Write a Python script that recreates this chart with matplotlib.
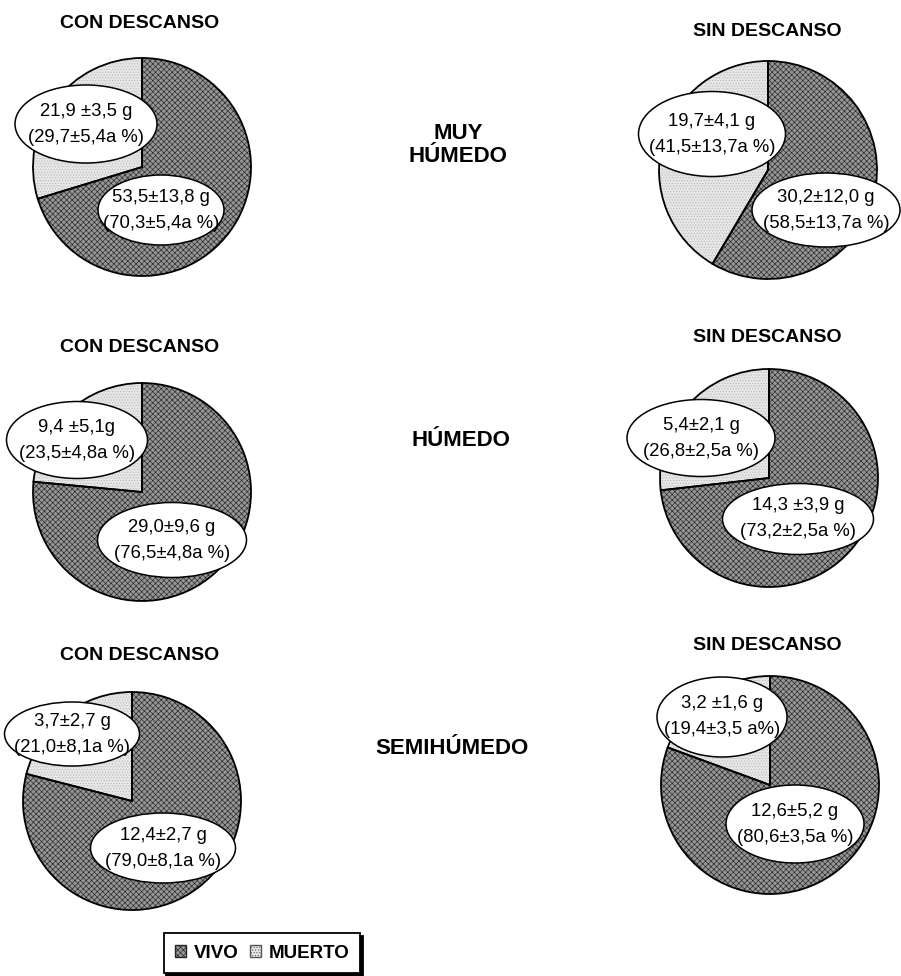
import matplotlib
matplotlib.use("Agg")
import matplotlib.pyplot as plt
from matplotlib.patches import Ellipse, Patch

plt.rcParams['font.family'] = ['Liberation Sans', 'DejaVu Sans']
plt.rcParams['hatch.linewidth'] = 0.45

# ====================== DATA ======================
# order: row by row (muy humedo, humedo, semihumedo), left = con descanso, right = sin descanso
vivo_pct = [70.3, 58.5, 76.5, 73.2, 79.0, 80.6]
muerto_pct = [29.7, 41.5, 23.5, 26.8, 21.0, 19.4]
vivo_lbl = [("53,5±13,8 g", "(70,3±5,4a %)"),
            ("30,2±12,0 g", "(58,5±13,7a %)"),
            ("29,0±9,6 g", "(76,5±4,8a %)"),
            ("14,3 ±3,9 g", "(73,2±2,5a %)"),
            ("12,4±2,7 g", "(79,0±8,1a %)"),
            ("12,6±5,2 g", "(80,6±3,5a %)")]
muerto_lbl = [("21,9 ±3,5 g", "(29,7±5,4a %)"),
              ("19,7±4,1 g", "(41,5±13,7a %)"),
              ("9,4 ±5,1g", "(23,5±4,8a %)"),
              ("5,4±2,1 g", "(26,8±2,5a %)"),
              ("3,7±2,7 g", "(21,0±8,1a %)"),
              ("3,2 ±1,6 g", "(19,4±3,5 a%)")]
pie_titles = ["CON DESCANSO", "SIN DESCANSO"] * 3
row_labels = ["MUY\nHÚMEDO", "HÚMEDO", "SEMIHÚMEDO"]
legend_labels = ["VIVO", "MUERTO"]

# ====================== LAYOUT (pixels from top-left) ======================
W, H = 901, 976
R = 109
pie_xy = [(142, 167), (768, 170), (142, 492), (769, 478), (132, 801), (770, 785)]
title_xy = [(140, 23), (767, 32), (140, 348), (767, 337), (140, 655), (767, 645)]
row_xy = [(458, 145), (461, 440), (452, 748)]
# ellipse (cx, cy, w, h)
muerto_ell = [(86, 124, 142, 78), (712, 134, 147, 85), (77, 440, 141, 77),
              (701, 438, 148, 77), (72, 734, 135, 64), (722, 717, 130, 80)]
vivo_ell = [(161, 210, 126, 70), (826, 210, 148, 74), (172, 540, 149, 75),
            (798, 519, 151, 71), (163, 848, 145, 70), (795, 824, 138, 78)]

VIVO_FC, VIVO_HC, VIVO_H = '#969696', '#262626', 'xxxxxx'
MUERTO_FC, MUERTO_HC, MUERTO_H = '#e6e6e6', '#b8b8b8', '......'


def P(x, y):
    return x, H - y


fig = plt.figure(figsize=(W / 100, H / 100), dpi=100)
ax = fig.add_axes([0, 0, 1, 1])

for i in range(6):
    c = P(*pie_xy[i])
    vals = [vivo_pct[i], muerto_pct[i]]
    wedges, _ = ax.pie(vals, colors=[VIVO_FC, MUERTO_FC], hatch=[VIVO_H, MUERTO_H],
                       startangle=90, counterclock=False, center=c, radius=R,
                       wedgeprops=dict(linewidth=0))
    wedges[0].set_edgecolor(VIVO_HC)
    wedges[1].set_edgecolor(MUERTO_HC)
    for w in wedges:
        w.set_linewidth(0)
    # outline
    ax.pie(vals, startangle=90, counterclock=False, center=c, radius=R,
           wedgeprops=dict(fill=False, edgecolor='black', linewidth=1.3))

    tx, ty = P(*title_xy[i])
    ax.text(tx, ty, pie_titles[i], ha='center', va='center', fontsize=14,
            fontweight='bold')

    for (ex, ey, ew, eh), (l1, l2) in ((muerto_ell[i], muerto_lbl[i]),
                                        (vivo_ell[i], vivo_lbl[i])):
        x, y = P(ex, ey)
        ax.add_patch(Ellipse((x, y), ew, eh, facecolor='white', edgecolor='black',
                             linewidth=1.1, zorder=3))
        ax.text(x, y + 13, l1, ha='center', va='center', fontsize=13.3, zorder=4)
        ax.text(x, y - 13, l2, ha='center', va='center', fontsize=13.3, zorder=4)

for lbl, (x, y) in zip(row_labels, row_xy):
    x, y = P(x, y)
    ax.text(x, y, lbl, ha='center', va='center', fontsize=16, fontweight='bold',
            linespacing=1.1)

ax.set_xlim(0, W)
ax.set_ylim(0, H)
ax.set_aspect('auto')
ax.axis('off')

handles = [Patch(facecolor=VIVO_FC, edgecolor=VIVO_HC, hatch=VIVO_H, label=legend_labels[0]),
           Patch(facecolor=MUERTO_FC, edgecolor='#555555', hatch=MUERTO_H, label=legend_labels[1])]
leg = fig.legend(handles=handles, loc='center', bbox_to_anchor=(262 / W, 1 - 953 / H),
                 ncol=2, prop={'weight': 'bold', 'size': 13.5}, handlelength=0.6,
                 handleheight=0.6, handletextpad=0.4, columnspacing=0.6,
                 fancybox=False, shadow={'color': 'black', 'alpha': 1}, borderpad=0.6)
leg.get_frame().set_edgecolor('black')
leg.get_frame().set_linewidth(1.3)

plt.savefig("out.png", dpi=100)
